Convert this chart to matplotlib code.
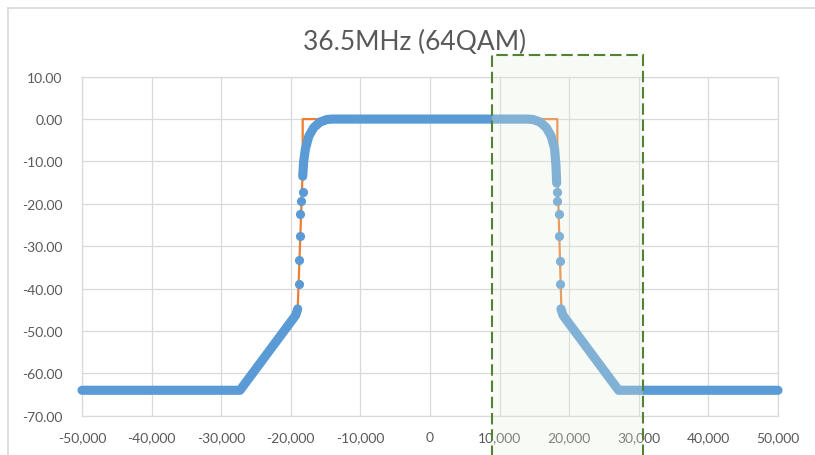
#! /usr/bin/env python

import matplotlib
matplotlib.use('Agg')
import matplotlib.pyplot as plt
from matplotlib.patches import Rectangle
from matplotlib.lines import Line2D
from matplotlib.ticker import FuncFormatter

plt.rcParams['font.family'] = ['Lato', 'DejaVu Sans']

title = '36.5MHz (64QAM)'

# measured response, dense parts (drawn as a continuous band of markers)
left_skirt_x = [-50000, -27300, -19300, -19010]
left_skirt_y = [-64.0, -64.0, -46.3, -44.8]
passband_x = [-18290, -18150, -17900, -17400, -16700, -15800, -14800, -14000,
              14000, 14800, 15800, 16700, 17400, 17900, 18100, 18200]
passband_y = [-13.5, -10.0, -7.0, -4.0, -2.0, -0.7, -0.1, 0.0,
              0.0, -0.1, -0.7, -2.0, -4.0, -7.0, -11.0, -15.1]
right_skirt_x = [18820, 19100, 27100, 50000]
right_skirt_y = [-44.8, -46.3, -64.0, -64.0]

# measured response, sparse points on the steep edges
edge_x = [-18820, -18820, -18680, -18680, -18490, -18290,
          18200, 18300, 18490, 18490, 18680, 18680]
edge_y = [-38.9, -33.3, -27.6, -22.3, -19.4, -17.1,
          -17.1, -19.4, -22.3, -27.7, -33.4, -39.0]

# spectrum mask
mask_x = [-19010, -18290, -18290, 18300, 18300, 18880]
mask_y = [-44.8, -12.0, 0.0, 0.0, -12.0, -44.8]

# highlighted channel
box_x0, box_x1 = 8950, 30650
box_top = 15.2

blue = '#5B9BD5'
orange = '#ED7D31'
grey = '#595959'
gridc = '#D9D9D9'

fig = plt.figure(figsize=(8.15, 4.56), dpi=100)
ax = fig.add_axes([82 / 815, 1 - 416.7 / 456, (778 - 82) / 815, (416.7 - 77.7) / 456])

ax.plot(mask_x, mask_y, color=orange, lw=1.6, zorder=3)
for xs, ys in [(left_skirt_x, left_skirt_y), (passband_x, passband_y),
               (right_skirt_x, right_skirt_y)]:
    ax.plot(xs, ys, color=blue, lw=6.6, solid_capstyle='round',
            solid_joinstyle='round', clip_on=False, zorder=4)
ax.plot(edge_x, edge_y, 'o', color=blue, ms=6.6, mec='none', zorder=4)

ax.add_patch(Rectangle((box_x0, -95), box_x1 - box_x0, box_top + 95,
                       facecolor=(228 / 255, 240 / 255, 220 / 255), alpha=0.28,
                       edgecolor='none', clip_on=False, zorder=5))
ax.add_patch(Rectangle((box_x0, -95), box_x1 - box_x0, box_top + 95,
                       facecolor='none', edgecolor='#548235', lw=1.5,
                       linestyle=(0, (5.5, 2.3)), clip_on=False, zorder=6))

ax.set_xlim(-50000, 50000)
ax.set_ylim(-70, 10)
ax.set_xticks(range(-50000, 50001, 10000))
ax.set_yticks(range(-70, 11, 10))
ax.xaxis.set_major_formatter(FuncFormatter(lambda v, p: '{:,.0f}'.format(v)))
ax.yaxis.set_major_formatter(FuncFormatter(lambda v, p: '{:.2f}'.format(v)))
ax.grid(True, color=gridc, lw=0.9, zorder=0)
ax.set_axisbelow(True)
for s in ax.spines.values():
    s.set_color(gridc)
    s.set_linewidth(0.9)
ax.tick_params(length=0, labelsize=10, colors=grey)
ax.tick_params(axis='x', pad=11)
ax.tick_params(axis='y', pad=14)

fig.text(414.7 / 815, 1 - 50 / 456, title, ha='center', va='baseline',
         fontsize=19, color=grey)

# chart area border
fig.add_artist(Line2D([8 / 815, 1.0], [1 - 9 / 456] * 2, transform=fig.transFigure,
                      color=gridc, lw=1.2))
fig.add_artist(Line2D([8 / 815] * 2, [0, 1 - 9 / 456], transform=fig.transFigure,
                      color=gridc, lw=1.2))

fig.savefig('out.png', dpi=100)
